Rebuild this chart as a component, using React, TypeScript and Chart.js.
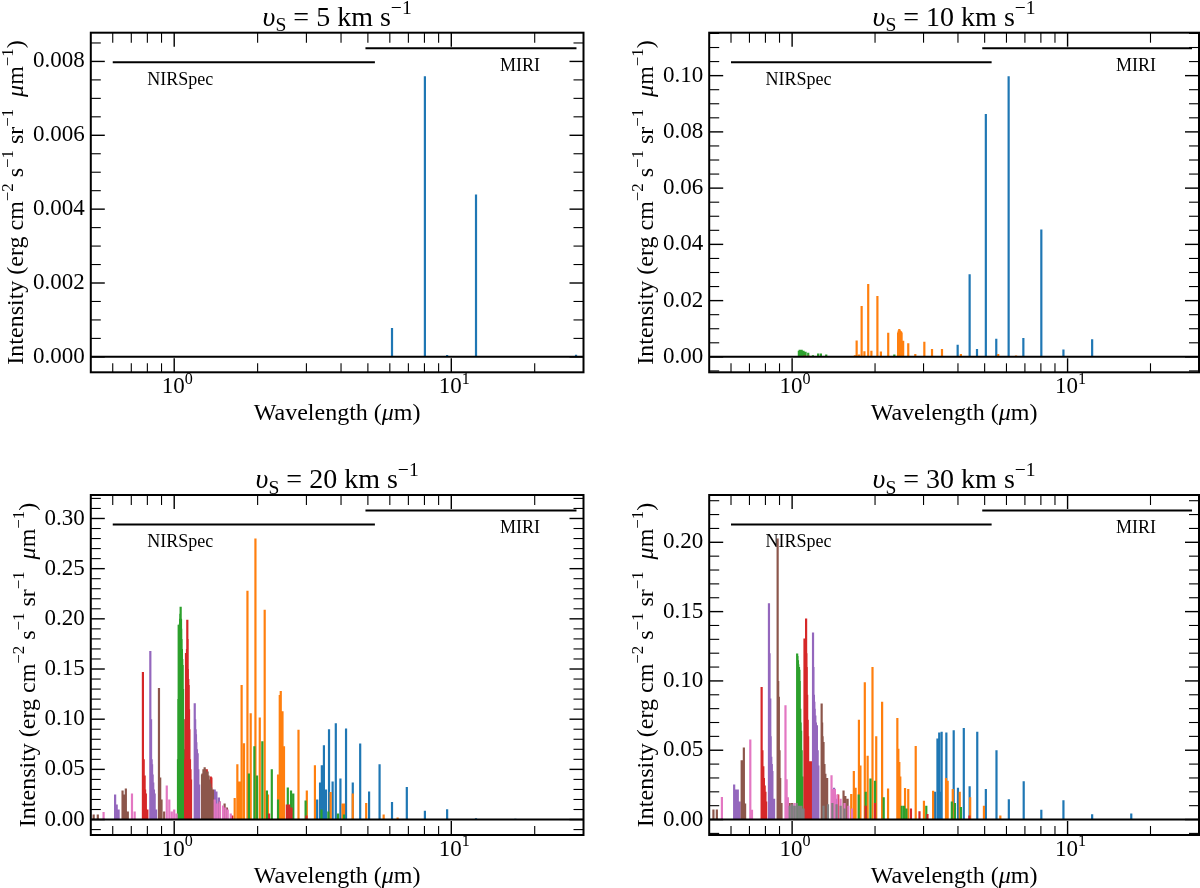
import React, { useEffect, useRef } from "react";
import { Chart, registerables } from "chart.js";

Chart.register(...registerables);

const SERIF = "'Liberation Serif', 'Times New Roman', serif";

// matplotlib tab10
const BLUE = "#1f77b4";
const ORANGE = "#ff7f0e";
const GREEN = "#2ca02c";
const RED = "#d62728";
const PURPLE = "#9467bd";
const BROWN = "#8c564b";
const PINK = "#e377c2";
const GREY = "#7f7f7f";

const xRange = [0.5, 30];
const xMajor = [1, 10];
const xMinor = [0.6, 0.7, 0.8, 0.9, 2, 3, 4, 5, 6, 7, 8, 9, 20];
const nirspecRange = [0.6, 5.3];
const miriRange = [4.9, 28.3];

// ---- v_S = 5 km/s : [wavelength (um), intensity]
const v5Blue = [
  [3.5, 0.00002], [4.2, 0.00002], [4.7, 0.00002], [6.11, 0.00078], [6.91, 0.00002],
  [8.03, 0.0076], [9.66, 0.00005], [12.28, 0.0044], [17.03, 0.00001], [28.2, 0.00006],
];
const v5Ticks = [0, 0.002, 0.004, 0.006, 0.008];

// ---- v_S = 10 km/s
const v10Blue = [
  [3.85, 0.0003], [3.99, 0.0043], [4.41, 0.0294], [4.69, 0.0028], [5.05, 0.0864],
  [5.51, 0.0064], [6.11, 0.0998], [6.91, 0.0067], [8.03, 0.0453], [9.66, 0.0026],
  [12.28, 0.0063], [17.03, 0.0002], [28.2, 0.0002],
];
const v10Orange = [
  [1.69, 0.0006], [1.715, 0.0058], [1.75, 0.0008], [1.788, 0.0181], [1.83, 0.002],
  [1.889, 0.0259], [1.94, 0.0022], [2.04, 0.0216], [2.1, 0.0019], [2.233, 0.0086],
  [2.425, 0.0087], [2.437, 0.0094], [2.449, 0.0099], [2.46, 0.0095], [2.472, 0.0092],
  [2.485, 0.009], [2.497, 0.0087], [2.53, 0.0057], [2.64, 0.0048], [2.8, 0.001],
  [3.02, 0.0054], [3.22, 0.0028], [3.5, 0.0028], [4.1, 0.001], [5.6, 0.001], [6.5, 0.0005],
];
const v10Green = [
  [1.058, 0.0022], [1.066, 0.0025], [1.075, 0.0024], [1.083, 0.0025], [1.1, 0.0022],
  [1.119, 0.0018], [1.144, 0.0015], [1.19, 0.0006], [1.243, 0.0012], [1.272, 0.0012],
  [1.33, 0.0008], [2.35, 0.0008],
];
const v10Red = [[0.78, 0.0003], [0.82, 0.0003], [0.86, 0.0002], [1.11, 0.0005], [1.15, 0.0004]];
const v10Ticks = [0, 0.02, 0.04, 0.06, 0.08, 0.1];

// ---- v_S = 20 km/s
const v20Blue = [
  [3.28, 0.02], [3.36, 0.037], [3.41, 0.054], [3.47, 0.074], [3.53, 0.03], [3.62, 0.09],
  [3.73, 0.038], [3.83, 0.096], [3.98, 0.041], [4.17, 0.0906], [4.41, 0.037],
  [4.69, 0.0757], [5.05, 0.028], [5.51, 0.055], [6.11, 0.0175], [6.91, 0.0325],
  [8.03, 0.0087], [9.66, 0.0103], [12.28, 0.0013], [17.03, 0.0008], [28.2, 0.0003],
];
const v20Orange = [
  [1.653, 0.0215], [1.69, 0.055], [1.72, 0.038], [1.751, 0.134], [1.786, 0.076],
  [1.838, 0.228], [1.888, 0.106], [1.964, 0.28], [2.036, 0.1016], [2.121, 0.209],
  [2.18, 0.025], [2.37, 0.045], [2.404, 0.124], [2.414, 0.11], [2.424, 0.128],
  [2.44, 0.1], [2.459, 0.108], [2.49, 0.073], [2.809, 0.0896], [3.01, 0.029],
  [3.22, 0.054], [3.67, 0.0275], [4.05, 0.016], [4.1, 0.016], [4.41, 0.026],
  [4.93, 0.0166], [5.7, 0.005], [6.4, 0.002],
];
const v20Green = [
  [1.032, 0.06], [1.035, 0.12], [1.038, 0.194], [1.041, 0.19], [1.045, 0.19],
  [1.048, 0.195], [1.05, 0.2], [1.052, 0.205], [1.055, 0.212], [1.058, 0.2], [1.06, 0.19],
  [1.063, 0.18], [1.066, 0.17], [1.069, 0.16], [1.073, 0.154], [1.076, 0.13], [1.08, 0.1],
  [1.085, 0.07], [1.09, 0.05], [1.1, 0.03], [1.86, 0.046], [1.947, 0.073], [1.99, 0.044],
  [2.08, 0.078], [2.16, 0.029], [2.25, 0.05], [2.37, 0.02], [2.57, 0.032], [2.64, 0.029],
  [2.69, 0.026], [2.98, 0.019], [3.4, 0.01], [3.6, 0.008], [3.9, 0.006], [4.1, 0.005],
];
const v20Red = [
  [0.771, 0.147], [0.776, 0.06], [0.779, 0.044], [0.782, 0.044], [0.785, 0.03],
  [0.79, 0.026], [0.8, 0.01], [1.095, 0.06], [1.098, 0.1], [1.103, 0.166], [1.106, 0.15],
  [1.109, 0.12], [1.112, 0.17], [1.115, 0.199], [1.118, 0.18], [1.12, 0.15],
  [1.124, 0.14], [1.128, 0.134], [1.131, 0.11], [1.135, 0.09], [1.14, 0.06],
  [1.145, 0.05], [1.15, 0.04], [1.311, 0.05], [1.335, 0.03], [1.355, 0.043],
  [1.362, 0.042], [1.62, 0.004], [2.2, 0.006], [2.55, 0.015], [2.6, 0.015], [2.65, 0.012],
  [3.0, 0.004],
];
const v20Purple = [
  [0.612, 0.025], [0.62, 0.015], [0.63, 0.01], [0.82, 0.168], [0.825, 0.1],
  [0.829, 0.06], [0.832, 0.055], [0.836, 0.045], [0.84, 0.037], [0.845, 0.03],
  [0.85, 0.026], [0.86, 0.01], [1.186, 0.116], [1.19, 0.1], [1.195, 0.09], [1.198, 0.085],
  [1.202, 0.077], [1.208, 0.07], [1.215, 0.066], [1.222, 0.05], [1.23, 0.035], [1.4, 0.03],
  [1.42, 0.028], [1.45, 0.022],
];
const v20Brown = [
  [0.512, 0.005], [0.53, 0.005], [0.651, 0.029], [0.66, 0.025], [0.669, 0.031],
  [0.68, 0.008], [0.881, 0.131], [0.89, 0.042], [0.9, 0.02], [0.92, 0.008], [1.26, 0.045],
  [1.265, 0.046], [1.275, 0.05], [1.28, 0.048], [1.288, 0.052], [1.295, 0.05], [1.3, 0.045],
  [1.31, 0.046], [1.32, 0.048], [1.33, 0.044], [1.34, 0.04], [1.35, 0.036], [1.36, 0.032],
  [1.38, 0.03], [1.46, 0.018], [1.52, 0.016], [1.55, 0.012],
];
const v20Pink = [
  [0.556, 0.0076], [0.704, 0.026], [0.72, 0.008], [0.94, 0.034], [0.96, 0.02],
  [0.98, 0.008], [1.0, 0.01], [1.02, 0.006], [1.4, 0.02], [1.43, 0.016], [1.46, 0.018],
  [1.5, 0.014], [1.53, 0.012], [1.56, 0.01], [1.6, 0.006],
];
const v20Ticks = [0, 0.05, 0.1, 0.15, 0.2, 0.25, 0.3];

// ---- v_S = 30 km/s
const v30Blue = [
  [3.3, 0.02], [3.37, 0.0584], [3.42, 0.0628], [3.45, 0.02], [3.49, 0.0633],
  [3.63, 0.0628], [3.86, 0.0645], [4.0, 0.023], [4.2, 0.066], [4.41, 0.024],
  [4.7, 0.0633], [5.05, 0.022], [5.52, 0.05], [6.12, 0.0147], [6.93, 0.0277],
  [8.03, 0.007], [9.66, 0.014], [12.28, 0.0038], [17.03, 0.0043], [28.2, 0.0002],
];
const v30Orange = [
  [1.639, 0.0185], [1.675, 0.035], [1.7, 0.023], [1.748, 0.072], [1.77, 0.039],
  [1.836, 0.099], [1.88, 0.046], [1.958, 0.11], [2.02, 0.06], [2.122, 0.085],
  [2.23, 0.0224], [2.41, 0.0733], [2.43, 0.051], [2.45, 0.0416], [2.47, 0.031],
  [2.57, 0.0228], [2.64, 0.022], [2.81, 0.053], [3.01, 0.0135], [3.25, 0.0207],
  [3.62, 0.03], [3.67, 0.028], [3.83, 0.022], [4.06, 0.02], [4.43, 0.016], [4.97, 0.01],
  [5.7, 0.003],
];
const v30Green = [
  [1.043, 0.1197], [1.046, 0.118], [1.05, 0.115], [1.053, 0.112], [1.055, 0.11],
  [1.059, 0.11], [1.063, 0.108], [1.066, 0.1], [1.07, 0.08], [1.074, 0.07],
  [1.078, 0.064], [1.083, 0.05], [1.09, 0.031], [1.745, 0.018], [1.85, 0.02],
  [1.925, 0.0296], [2.0, 0.028], [2.15, 0.016], [2.5, 0.01], [2.55, 0.01], [2.6, 0.008],
  [3.07, 0.01], [3.8, 0.013], [3.9, 0.012], [4.1, 0.009],
];
const v30Red = [
  [0.775, 0.0957], [0.78, 0.05], [0.786, 0.0385], [0.79, 0.03], [0.795, 0.0245],
  [0.8, 0.02], [0.805, 0.013], [1.109, 0.1306], [1.112, 0.12], [1.116, 0.1],
  [1.12, 0.13], [1.124, 0.145], [1.127, 0.12], [1.13, 0.11], [1.134, 0.09],
  [1.139, 0.072], [1.143, 0.06], [1.15, 0.042], [1.155, 0.042], [1.16, 0.042],
  [1.165, 0.042], [1.17, 0.042], [1.47, 0.018], [1.85, 0.01], [2.0, 0.012], [2.7, 0.008],
  [2.9, 0.006], [3.1, 0.004], [4.4, 0.003],
];
const v30Purple = [
  [0.616, 0.0252], [0.625, 0.0216], [0.635, 0.0216], [0.645, 0.013], [0.824, 0.156],
  [0.828, 0.12], [0.833, 0.0873], [0.836, 0.06], [0.84, 0.0453], [0.844, 0.04],
  [0.848, 0.035], [0.86, 0.015], [1.191, 0.135], [1.195, 0.11], [1.2, 0.09],
  [1.204, 0.085], [1.208, 0.08], [1.214, 0.075], [1.22, 0.07], [1.226, 0.068],
  [1.23, 0.068], [1.238, 0.05], [1.245, 0.039], [1.42, 0.023], [1.45, 0.015],
];
const v30Brown = [
  [0.518, 0.0072], [0.533, 0.0072], [0.656, 0.0428], [0.668, 0.052], [0.675, 0.0115],
  [0.886, 0.2027], [0.89, 0.1], [0.895, 0.0885], [0.9, 0.05], [0.905, 0.03],
  [0.915, 0.012], [0.98, 0.012], [1.0, 0.012], [1.28, 0.0837], [1.285, 0.07],
  [1.29, 0.06], [1.3, 0.056], [1.31, 0.04], [1.32, 0.033], [1.33, 0.03], [1.34, 0.03],
  [1.537, 0.021], [1.56, 0.017], [1.59, 0.015],
];
const v30Pink = [
  [0.556, 0.0163], [0.705, 0.0577], [0.715, 0.007], [0.946, 0.0825], [0.955, 0.029],
  [0.965, 0.016], [0.99, 0.01], [1.01, 0.01], [1.02, 0.012], [1.39, 0.032], [1.41, 0.022],
  [1.43, 0.022], [1.46, 0.018], [1.5, 0.015], [1.55, 0.012], [1.6, 0.01], [1.65, 0.008],
];
const v30Grey = [
  [0.98, 0.01], [1.0, 0.011], [1.02, 0.01], [1.04, 0.012], [1.06, 0.01], [1.08, 0.01],
  [1.1, 0.008], [1.3, 0.01], [1.35, 0.011], [1.4, 0.012], [1.45, 0.011], [1.5, 0.01],
  [1.55, 0.008],
];
const v30Ticks = [0, 0.05, 0.1, 0.15, 0.2];

type Seg = [string, string?];

function drawRich(ctx: CanvasRenderingContext2D, segs: Seg[], x: number, y: number, size: number, rot = 0) {
  const font = (k?: string) => {
    const s = k === "sup" || k === "sub" ? size * 0.7 : size;
    return `${k === "i" ? "italic " : ""}${s}px ${SERIF}`;
  };
  let total = 0;
  const widths = segs.map(([t, k]) => {
    ctx.font = font(k);
    const w = ctx.measureText(t).width;
    total += w;
    return w;
  });
  ctx.save();
  ctx.translate(x, y);
  ctx.rotate(rot);
  ctx.fillStyle = "#000";
  ctx.textAlign = "left";
  ctx.textBaseline = "alphabetic";
  let cx = -total / 2;
  segs.forEach(([t, k], i) => {
    ctx.font = font(k);
    const dy = k === "sup" ? -size * 0.42 : k === "sub" ? size * 0.2 : 0;
    ctx.fillText(t, cx, dy);
    cx += widths[i];
  });
  ctx.restore();
}

const sticks = (d: number[][]) =>
  d.flatMap(([w, h]) => [{ x: w, y: 0 }, { x: w, y: h }, { x: w, y: null }]);

type Series = { color: string; data: number[][] };
type PanelProps = {
  speed: number;
  series: Series[];
  yTicks: number[];
  minorStep: number;
  decimals: number;
  left: number;
  top: number;
  area: { left: number; right: number; top: number; bottom: number };
};

function Panel({ speed, series, yTicks, minorStep, decimals, left, top, area }: PanelProps) {
  const canvasRef = useRef<HTMLCanvasElement>(null);
  const chartRef = useRef<any>(null);

  useEffect(() => {
    if (!canvasRef.current) return;
    // instrument bars and y limits follow the brightest line, matplotlib style
    const peak = Math.max(...series.flatMap((s) => s.data.map((d) => d[1])));
    const nirY = peak * 1.05;
    const miriY = peak * 1.1;
    const yMax = miriY * 1.05;
    const yMin = -miriY * 0.05;

    const deco = {
      id: "deco",
      afterDatasetsDraw(chart: any) {
        const { ctx, chartArea: a, scales } = chart;
        const y0 = scales.y.getPixelForValue(0);
        ctx.save();
        ctx.strokeStyle = "#000";
        ctx.lineWidth = 2;
        ctx.beginPath();
        ctx.moveTo(a.left, y0);
        ctx.lineTo(a.right, y0);
        ctx.stroke();
        ctx.restore();
      },
      afterDraw(chart: any) {
        const { ctx, chartArea: a, scales } = chart;
        const xs = scales.x;
        const ys = scales.y;
        ctx.save();
        ctx.strokeStyle = "#000";
        const tick = (x1: number, y1: number, x2: number, y2: number, w: number) => {
          ctx.lineWidth = w;
          ctx.beginPath();
          ctx.moveTo(x1, y1);
          ctx.lineTo(x2, y2);
          ctx.stroke();
        };
        xMajor.forEach((v) => {
          const px = xs.getPixelForValue(v);
          tick(px, a.bottom, px, a.bottom - 14, 1.4);
          tick(px, a.top, px, a.top + 14, 1.4);
        });
        xMinor.forEach((v) => {
          const px = xs.getPixelForValue(v);
          tick(px, a.bottom, px, a.bottom - 9, 1.1);
          tick(px, a.top, px, a.top + 10, 1.1);
        });
        yTicks.forEach((v) => {
          const py = ys.getPixelForValue(v);
          tick(a.left, py, a.left + 14, py, 1.4);
          tick(a.right, py, a.right - 14, py, 1.4);
        });
        const first = Math.ceil(yMin / minorStep);
        for (let i = first; i * minorStep <= yMax; i++) {
          const v = i * minorStep;
          if (yTicks.some((t) => Math.abs(t - v) < minorStep / 10)) continue;
          const py = ys.getPixelForValue(v);
          tick(a.left, py, a.left + 10, py, 1.1);
          tick(a.right, py, a.right - 10, py, 1.1);
        }
        ctx.lineWidth = 2;
        ctx.strokeRect(a.left, a.top, a.right - a.left, a.bottom - a.top);

        // instrument labels
        ctx.fillStyle = "#000";
        ctx.font = `18px ${SERIF}`;
        ctx.textAlign = "left";
        ctx.textBaseline = "alphabetic";
        ctx.fillText("NIRSpec", xs.getPixelForValue(0.8), ys.getPixelForValue(yMax * 0.84));
        ctx.fillText("MIRI", xs.getPixelForValue(15), ys.getPixelForValue(yMax * 0.882));

        // x tick labels
        xMajor.forEach((v, i) => {
          drawRich(ctx, [["10"], [String(i), "sup"]], xs.getPixelForValue(v) + 3, a.bottom + 21, 23);
        });
        const cx = (a.left + a.right) / 2;
        const cy = (a.top + a.bottom) / 2;
        drawRich(ctx, [["Wavelength ("], ["μ", "i"], ["m)"]], cx, a.bottom + 48, 24);
        drawRich(ctx, [["υ", "i"], ["S", "sub"], [` = ${speed} km s`], ["−1", "sup"]], cx, a.top - 7, 28);

        ctx.font = `23px ${SERIF}`;
        const lw = Math.max(...yTicks.map((v) => ctx.measureText(v.toFixed(decimals)).width));
        drawRich(
          ctx,
          [["Intensity (erg cm"], ["−2", "sup"], [" s"], ["−1", "sup"], [" sr"], ["−1", "sup"], ["  "], ["μ", "i"], ["m"], ["−1", "sup"], [")"]],
          a.left - 6 - lw - 10,
          cy,
          24,
          -Math.PI / 2
        );
        ctx.restore();
      },
    };

    const datasets: any[] = [
      { data: [{ x: nirspecRange[0], y: nirY }, { x: nirspecRange[1], y: nirY }], borderColor: "#000", borderWidth: 2, order: -100 },
      { data: [{ x: miriRange[0], y: miriY }, { x: miriRange[1], y: miriY }], borderColor: "#000", borderWidth: 2, order: -100 },
      ...series.map((s, i) => ({
        data: sticks(s.data),
        borderColor: s.color,
        borderWidth: 2.2,
        spanGaps: false,
        order: -i,
      })),
    ];

    if (chartRef.current) chartRef.current.destroy();
    chartRef.current = new Chart(canvasRef.current, {
      type: "line",
      data: { datasets },
      options: {
        animation: false,
        responsive: false,
        devicePixelRatio: 1,
        events: [],
        layout: { padding: { left: 0, right: 600 - area.right, top: area.top, bottom: 0 } },
        elements: { point: { radius: 0 }, line: { tension: 0, fill: false } },
        plugins: { legend: { display: false }, tooltip: { enabled: false }, title: { display: false } },
        scales: {
          x: {
            type: "logarithmic",
            min: xRange[0],
            max: xRange[1],
            grid: { display: false },
            border: { display: false },
            ticks: { display: false },
            afterFit: (s: any) => {
              s.height = 444 - area.bottom;
            },
          },
          y: {
            type: "linear",
            min: yMin,
            max: yMax,
            grid: { display: false, drawTicks: false },
            border: { display: false },
            ticks: {
              color: "#000",
              padding: 6,
              font: { family: SERIF, size: 23 },
              callback: (v: any) => Number(v).toFixed(decimals),
            },
            afterBuildTicks: (s: any) => {
              s.ticks = yTicks.map((v) => ({ value: v }));
            },
            afterFit: (s: any) => {
              s.width = area.left;
            },
          },
        },
      } as any,
      plugins: [deco],
    });

    return () => {
      if (chartRef.current) {
        chartRef.current.destroy();
        chartRef.current = null;
      }
    };
  }, []);

  return (
    <div style={{ position: "absolute", left, top, width: 600, height: 444 }}>
      <canvas ref={canvasRef} width={600} height={444} style={{ display: "block" }} />
    </div>
  );
}

const leftArea = (top: number, bottom: number) => ({ left: 90.8, right: 583.5, top, bottom });
const rightArea = (top: number, bottom: number) => ({ left: 109.2, right: 599, top, bottom });

export default function App() {
  return (
    <div style={{ position: "absolute", left: 0, top: 0, width: 1200, height: 888, background: "#fff", overflow: "hidden" }}>
      <Panel
        speed={5}
        series={[{ color: BLUE, data: v5Blue }]}
        yTicks={v5Ticks}
        minorStep={0.0005}
        decimals={3}
        left={0}
        top={0}
        area={leftArea(32.7, 372.3)}
      />
      <Panel
        speed={10}
        series={[
          { color: BLUE, data: v10Blue },
          { color: ORANGE, data: v10Orange },
          { color: GREEN, data: v10Green },
          { color: RED, data: v10Red },
        ]}
        yTicks={v10Ticks}
        minorStep={0.005}
        decimals={2}
        left={600}
        top={0}
        area={rightArea(32.7, 372.3)}
      />
      <Panel
        speed={20}
        series={[
          { color: BLUE, data: v20Blue },
          { color: ORANGE, data: v20Orange },
          { color: GREEN, data: v20Green },
          { color: RED, data: v20Red },
          { color: PURPLE, data: v20Purple },
          { color: BROWN, data: v20Brown },
          { color: PINK, data: v20Pink },
        ]}
        yTicks={v20Ticks}
        minorStep={0.01}
        decimals={2}
        left={0}
        top={444}
        area={leftArea(51, 391)}
      />
      <Panel
        speed={30}
        series={[
          { color: BLUE, data: v30Blue },
          { color: ORANGE, data: v30Orange },
          { color: GREEN, data: v30Green },
          { color: RED, data: v30Red },
          { color: PURPLE, data: v30Purple },
          { color: BROWN, data: v30Brown },
          { color: PINK, data: v30Pink },
          { color: GREY, data: v30Grey },
        ]}
        yTicks={v30Ticks}
        minorStep={0.01}
        decimals={2}
        left={600}
        top={444}
        area={rightArea(51, 391)}
      />
    </div>
  );
}
